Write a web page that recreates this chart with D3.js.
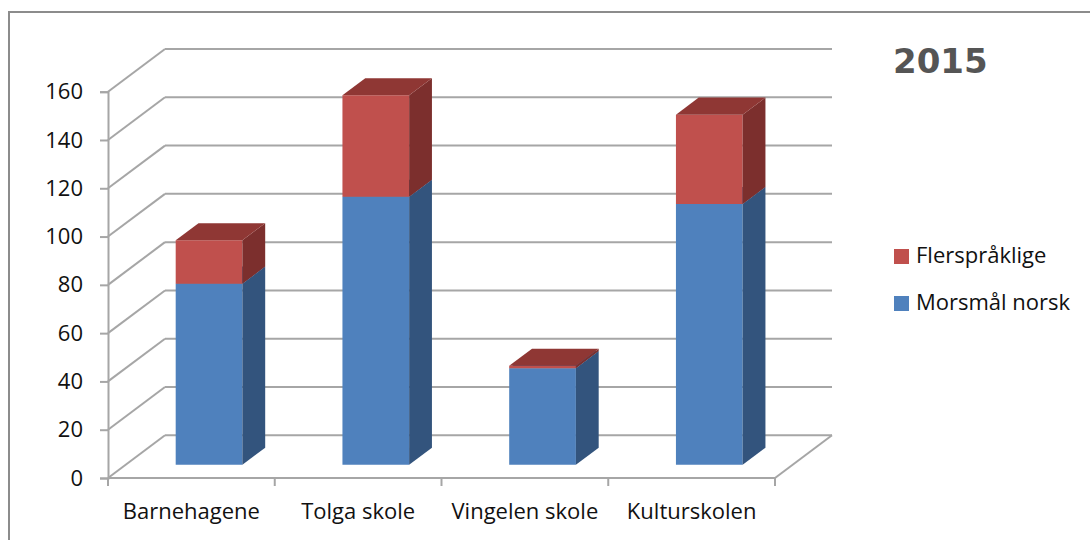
<!DOCTYPE html>
<html>
<head>
<meta charset="utf-8">
<script src="https://cdn.jsdelivr.net/npm/d3@7"></script>
<style>
  body { margin: 0; background: #fff; }
  svg { display: block; }
  text { font-family: "Open Sans", sans-serif; fill: #111; }
</style>
</head>
<body>
<div id="chart"></div>
<script>
// Data
const categories = ['Barnehagene', 'Tolga skole', 'Vingelen skole', 'Kulturskolen'];
const seriesNames = ['Morsmål norsk', 'Flerspråklige'];
const morsmalNorsk = [75, 111, 40, 108];
const flersprakelige = [18, 42, 1, 37];
const yTicks = [0, 20, 40, 60, 80, 100, 120, 140, 160];
const title = '2015';

// Colours: front, side, top for each series
const colors = {
    'Morsmål norsk': { front: '#4f81bd', side: '#33547d', top: '#3d6494' },
    'Flerspråklige': { front: '#c0504d', side: '#7c2f2d', top: '#8f3734' }
};

// 3D depth of the plot box
const DEPTH_X = 57;
const DEPTH_Y = -42.7;
const BAR_F0 = 0.31;  // bar front as fraction of depth
const BAR_F1 = 0.71;  // bar back

const width = 1090, height = 540;
const svg = d3.select('#chart').append('svg')
    .attr('width', width)
    .attr('height', height);

// Outer frame (only top and left visible)
svg.append('path')
    .attr('d', `M9,${height} V12 H${width}`)
    .attr('fill', 'none')
    .attr('stroke', '#8c8c8c')
    .attr('stroke-width', 2);

const y = d3.scaleLinear().domain([0, 160]).range([478, 91.7]);
const x = d3.scaleBand().domain(categories).range([108, 775])
    .paddingInner(0.6).paddingOuter(0.3);

const gridColor = '#a6a6a6';
const grid = svg.append('g').attr('class', 'grid');

// back wall lines + side wall diagonals
yTicks.forEach(v => {
    grid.append('line')
        .attr('x1', 108 + DEPTH_X).attr('x2', 775 + DEPTH_X)
        .attr('y1', y(v) + DEPTH_Y).attr('y2', y(v) + DEPTH_Y)
        .attr('stroke', gridColor).attr('stroke-width', 2);
    grid.append('line')
        .attr('x1', 108).attr('x2', 108 + DEPTH_X)
        .attr('y1', y(v)).attr('y2', y(v) + DEPTH_Y)
        .attr('stroke', gridColor).attr('stroke-width', 2);
});
// floor right edge
grid.append('line')
    .attr('x1', 775).attr('x2', 775 + DEPTH_X)
    .attr('y1', y(0)).attr('y2', y(0) + DEPTH_Y)
    .attr('stroke', gridColor).attr('stroke-width', 2);

// Y axis
const yAxis = d3.axisLeft(y).tickValues(yTicks).tickSize(8).tickPadding(17);
const yg = svg.append('g').attr('transform', 'translate(108,0)').call(yAxis);
yg.select('.domain').attr('stroke', gridColor).attr('stroke-width', 2);
yg.selectAll('.tick line').attr('stroke', gridColor).attr('stroke-width', 2);
yg.selectAll('.tick text')
    .style('font-family', '"Open Sans", sans-serif')
    .style('font-size', '22px')
    .style('fill', '#111');

// X axis
const xg = svg.append('g').attr('transform', `translate(0,${y(0)})`);
xg.append('line')
    .attr('x1', 108).attr('x2', 775)
    .attr('stroke', gridColor).attr('stroke-width', 2);
d3.range(categories.length + 1).forEach(i => {
    const bx = 108 + i * x.step();
    xg.append('line')
        .attr('x1', bx).attr('x2', bx).attr('y1', 0).attr('y2', 8)
        .attr('stroke', gridColor).attr('stroke-width', 2);
});
xg.selectAll('text.cat')
    .data(categories)
    .join('text')
    .attr('class', 'cat')
    .attr('x', d => x(d) + x.bandwidth() / 2)
    .attr('y', 41)
    .attr('text-anchor', 'middle')
    .style('font-size', '22px')
    .text(d => d);

// Bars
function pt(px, v, f) {
    return [px + DEPTH_X * f, y(v) + DEPTH_Y * f];
}
function poly(points) {
    return 'M' + points.map(p => p.join(',')).join('L') + 'Z';
}

const stackData = categories.map((c, i) => ({
    cat: c,
    'Morsmål norsk': morsmalNorsk[i],
    'Flerspråklige': flersprakelige[i]
}));
const stack = d3.stack().keys(seriesNames)(stackData);

const bars = svg.append('g').attr('class', 'bars');
categories.forEach((c, i) => {
    const x0 = x(c), x1 = x(c) + x.bandwidth();
    stack.forEach(layer => {
        const v0 = layer[i][0], v1 = layer[i][1];
        if (v1 - v0 <= 0) return;
        const col = colors[layer.key];
        const g = bars.append('g');
        // front face
        g.append('path')
            .attr('d', poly([pt(x0, v0, BAR_F0), pt(x1, v0, BAR_F0), pt(x1, v1, BAR_F0), pt(x0, v1, BAR_F0)]))
            .attr('fill', col.front);
        // side face
        g.append('path')
            .attr('d', poly([pt(x1, v0, BAR_F0), pt(x1, v0, BAR_F1), pt(x1, v1, BAR_F1), pt(x1, v1, BAR_F0)]))
            .attr('fill', col.side);
        // top face
        g.append('path')
            .attr('d', poly([pt(x0, v1, BAR_F0), pt(x1, v1, BAR_F0), pt(x1, v1, BAR_F1), pt(x0, v1, BAR_F1)]))
            .attr('fill', col.top);
    });
});

// Title
svg.append('text')
    .attr('x', 893).attr('y', 73)
    .style('font-family', '"DejaVu Sans", sans-serif')
    .style('font-weight', 'bold')
    .style('font-size', '34px')
    .style('fill', '#555')
    .text(title);

// Legend (Flerspråklige on top)
const legendItems = seriesNames.slice().reverse();
const legend = svg.append('g').attr('transform', 'translate(894,249)');
legendItems.forEach((name, i) => {
    const row = legend.append('g').attr('transform', `translate(0,${i * 47})`);
    row.append('rect')
        .attr('width', 15).attr('height', 15)
        .attr('fill', colors[name].front);
    row.append('text')
        .attr('x', 22).attr('y', 14)
        .style('font-size', '22px')
        .text(name);
});
</script>
</body>
</html>
